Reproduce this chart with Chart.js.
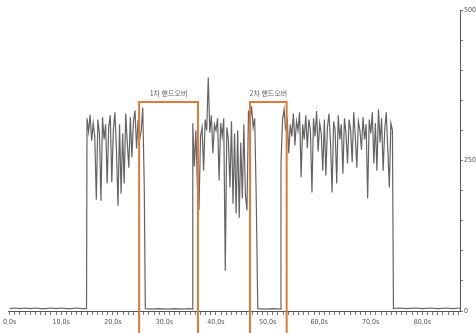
<!DOCTYPE html>
<html>
<head>
<meta charset="utf-8">
<script src="https://cdn.jsdelivr.net/npm/chart.js@4.4.1/dist/chart.umd.min.js"></script>
<style>
  html, body { margin: 0; padding: 0; background: #ffffff; }
  #wrap { width: 476px; height: 333px; position: relative; }
</style>
</head>
<body>
<div id="wrap"><canvas id="c" width="476" height="333"></canvas></div>
<script>
// ---- data (seconds, throughput) ----
const idleStartTimes  = [0, 1, 2, 3, 4, 5, 6, 7, 8, 9, 10, 11, 12, 13, 14, 14.9];
const idleStartValues = [4, 5, 4, 5, 4, 5, 4, 4, 5, 4, 5, 4, 4, 5, 4, 4];

const phase1Times  = [15.0,15.3,15.6,15.9,16.2,16.5,16.8,17.1,17.4,17.7,18.0,18.3,18.6,18.9,19.2,19.5,19.8,20.1,20.4,20.7,21.0,21.3,21.6,21.9,22.2,22.5,22.8,23.1,23.4,23.7,24.0,24.3,24.6,24.9,25.2,25.5,25.8,26.1];
const phase1Values = [320,298,326,283,312,290,185,318,296,183,322,285,310,212,305,325,214,300,330,268,175,310,195,295,212,328,280,238,322,255,315,333,270,318,285,300,338,203];

const gap1Times  = [26.3, 27.5, 29.0, 30.5, 32.0, 33.5, 35.0, 35.4];
const gap1Values = [4, 3, 4, 3, 4, 3, 4, 3];

const phase2Times  = [35.5,35.8,36.1,36.4,36.7,37.0,37.3,37.6,37.9,38.2,38.5,38.8,39.1,39.4,39.7,40.0,40.3,40.6,40.9,41.2,41.5,41.8,42.1,42.4,42.7,43.0,43.3,43.6,43.9,44.2,44.5,44.8,45.1,45.4,45.7,46.0,46.3,46.6,46.9,47.2,47.5,47.8];
const phase2Values = [312,240,300,205,168,290,305,233,318,300,388,296,325,262,310,300,320,217,312,290,320,67,305,285,205,315,178,295,162,300,155,280,187,310,193,167,333,315,340,305,320,188];

const gap2Times  = [48.1, 49.5, 51.0, 52.5];
const gap2Values = [4, 3, 4, 3];

const phase3Times  = [52.6,52.9,53.2,53.5,53.8,54.1,54.4,54.7,55.0,55.3,55.6,55.9,56.2,56.5,56.8,57.1,57.4,57.7,58.0,58.3,58.6,58.9,59.2,59.5,59.8,60.1,60.4,60.7,61.0,61.3,61.6,61.9,62.2,62.5,62.8,63.1,63.4,63.7,64.0,64.3,64.6,64.9,65.2,65.5,65.8,66.1,66.4,66.7,67.0,67.3,67.6,67.9,68.2,68.5,68.8,69.1,69.4,69.7,70.0,70.3,70.6,70.9,71.2,71.5,71.8,72.1,72.4,72.7,73.0,73.3,73.6,73.9,74.2];
const phase3Values = [245,318,335,300,322,262,310,290,328,275,315,300,330,222,310,285,325,270,318,300,197,320,290,332,265,312,295,233,318,225,305,328,280,197,315,300,212,325,285,310,228,320,295,245,318,300,247,330,290,238,315,300,268,322,285,310,187,318,295,330,245,312,233,335,280,320,233,300,330,270,205,312,300];

const idleEndTimes  = [74.4, 75.5, 77.0, 78.5, 80.0, 81.5, 83.0, 84.5, 86.0, 87.3];
const idleEndValues = [4, 5, 4, 5, 4, 5, 4, 5, 4, 5];

// handover windows
const handoverLabels = ['1차 핸드오버', '2차 핸드오버'];
const handoverStart  = [25.1, 46.6];
const handoverEnd    = [36.5, 53.7];
const handoverTop    = [347, 347];

// axis ticks
const xMajorTicks  = [0, 10, 20, 30, 40, 50, 60, 70, 80];
const xTickLabels  = ['0,0s', '10,0s', '20,0s', '30,0s', '40,0s', '50,0s', '60,0s', '70,0s', '80,0s'];
const yMajorTicks  = [0, 250, 500];
const yTickLabels  = ['0', '250', '500'];

// ---- build ----
const allTimes  = [].concat(idleStartTimes, phase1Times, gap1Times, phase2Times, gap2Times, phase3Times, idleEndTimes);
const allValues = [].concat(idleStartValues, phase1Values, gap1Values, phase2Values, gap2Values, phase3Values, idleEndValues);
const points = allTimes.map((t, i) => ({ x: t, y: allValues[i] }));

const FONT = '"Liberation Sans Narrow", "DejaVu Sans Condensed", "Liberation Sans", sans-serif';

const boxPlugin = {
  id: 'handoverBoxes',
  afterDatasetsDraw(chart) {
    const { ctx } = chart;
    const xs = chart.scales.x, ys = chart.scales.y;
    ctx.save();
    ctx.strokeStyle = '#e2793a';
    ctx.lineWidth = 2;
    for (let i = 0; i < handoverStart.length; i++) {
      const x1 = xs.getPixelForValue(handoverStart[i]);
      const x2 = xs.getPixelForValue(handoverEnd[i]);
      const yt = ys.getPixelForValue(handoverTop[i]);
      const yb = chart.height + 5;
      ctx.beginPath();
      ctx.moveTo(x1, yb);
      ctx.lineTo(x1, yt);
      ctx.lineTo(x2, yt);
      ctx.lineTo(x2, yb);
      ctx.stroke();
      ctx.fillStyle = '#666';
      ctx.font = '7px "Noto Sans CJK KR", sans-serif';
      ctx.textAlign = 'center';
      ctx.textBaseline = 'middle';
      ctx.fillText(handoverLabels[i], (x1 + x2) / 2, yt - 9);
    }
    ctx.restore();
  }
};

new Chart(document.getElementById('c'), {
  type: 'line',
  data: {
    datasets: [{
      data: points,
      borderColor: 'rgba(40,40,40,0.72)',
      borderWidth: 1.2,
      pointRadius: 0,
      tension: 0,
      fill: false
    }]
  },
  options: {
    responsive: false,
    animation: false,
    events: [],
    layout: { padding: { top: 10, left: 3, right: 0, bottom: 0 } },
    plugins: { legend: { display: false }, tooltip: { enabled: false } },
    scales: {
      x: {
        type: 'linear',
        min: -0.2,
        max: 87.3,
        afterBuildTicks(scale) {
          const t = [];
          for (let v = 0; v <= 87; v++) t.push({ value: v });
          scale.ticks = t;
        },
        afterFit(scale) { scale.height = 22; },
        border: { display: true, color: '#555', width: 1 },
        grid: { display: true, drawOnChartArea: false, drawTicks: true, tickLength: 4, color: '#777' },
        ticks: {
          autoSkip: false,
          maxRotation: 0,
          padding: 3,
          color: '#555',
          font: { family: FONT, size: 7 },
          callback(value) {
            const i = xMajorTicks.indexOf(value);
            return i >= 0 ? xTickLabels[i] : '';
          }
        }
      },
      y: {
        type: 'linear',
        position: 'right',
        min: 0,
        max: 500,
        afterFit(scale) { scale.width = 16; },
        border: { display: true, color: '#555', width: 1 },
        grid: { display: true, drawOnChartArea: false, drawTicks: true, tickLength: 3, color: '#777' },
        ticks: {
          stepSize: 50,
          autoSkip: false,
          padding: 1,
          color: '#555',
          font: { family: FONT, size: 7 },
          callback(value) {
            const i = yMajorTicks.indexOf(value);
            return i >= 0 ? yTickLabels[i] : '';
          }
        }
      }
    }
  },
  plugins: [boxPlugin]
});
</script>
</body>
</html>
